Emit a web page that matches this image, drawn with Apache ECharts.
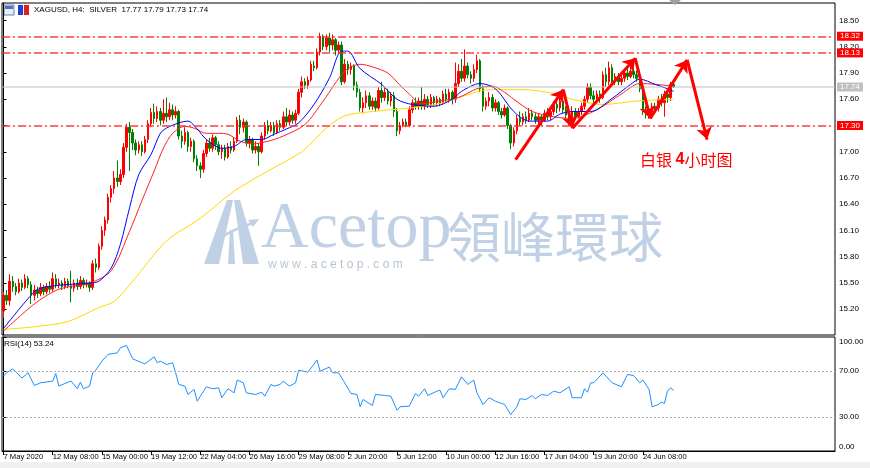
<!DOCTYPE html>
<html><head><meta charset="utf-8">
<script src="https://cdn.jsdelivr.net/npm/echarts@6/dist/echarts.min.js"></script>
<style>html,body{margin:0;padding:0;background:#fff}#c{width:870px;height:468px}</style>
</head><body><div id="c"></div>
<script>
// ---------- data ----------
const symbolName = 'XAGUSD, H4:  SILVER';
const tickLabels = ['7 May 2020','12 May 08:00','15 May 00:00','19 May 12:00','22 May 04:00','26 May 16:00','29 May 08:00','2 Jun 20:00','5 Jun 12:00','10 Jun 00:00','12 Jun 16:00','17 Jun 04:00','19 Jun 20:00','24 Jun 08:00'];
const labelBars = [0,16,32,48,64,80,96,112,128,144,160,176,192,208];
const slotCount = 271;
const priceTicks = [15.2,15.5,15.8,16.1,16.4,16.7,17.0,17.3,17.6,17.9,18.2,18.5];
const rsiTicks = [0,30,70,100];
const levels = [18.32, 18.13, 17.30];
const lastPrice = 17.74;
const rsiLast = 53.24;

const opens = [15.18,15.36,15.30,15.52,15.46,15.40,15.50,15.45,15.55,15.48,
15.36,15.42,15.38,15.45,15.40,15.46,15.43,15.55,15.48,15.50,
15.46,15.52,15.47,15.44,15.50,15.46,15.53,15.48,15.50,15.45,
15.72,15.68,15.92,16.10,16.22,16.48,16.58,16.70,16.66,16.74,
17.05,17.28,17.22,17.10,17.02,17.08,17.00,17.14,17.32,17.45,
17.38,17.46,17.36,17.44,17.40,17.48,17.42,17.46,17.18,17.12,
17.22,17.06,17.12,16.92,16.84,16.80,16.98,17.10,17.04,17.16,
17.08,17.00,17.04,16.94,17.06,17.02,17.12,17.36,17.28,17.34,
17.10,17.14,17.02,17.06,17.00,17.18,17.30,17.24,17.30,17.22,
17.32,17.28,17.40,17.34,17.42,17.36,17.44,17.68,17.80,17.76,
17.82,17.98,17.96,18.14,18.32,18.20,18.30,18.22,18.28,18.16,
18.22,17.80,18.00,17.94,17.98,17.76,17.68,17.50,17.56,17.64,
17.52,17.58,17.50,17.70,17.62,17.68,17.58,17.64,17.46,17.24,
17.30,17.34,17.30,17.48,17.56,17.52,17.58,17.52,17.60,17.54,
17.62,17.56,17.60,17.56,17.66,17.60,17.68,17.60,17.78,17.92,
17.84,17.98,17.88,17.84,17.94,18.04,17.72,17.52,17.58,17.62,
17.50,17.56,17.46,17.42,17.50,17.30,17.10,17.24,17.38,17.34,
17.40,17.36,17.44,17.40,17.36,17.40,17.36,17.44,17.40,17.46,
17.54,17.50,17.58,17.48,17.42,17.36,17.46,17.40,17.46,17.52,
17.60,17.74,17.64,17.60,17.66,17.62,17.88,17.80,17.96,17.80,
17.86,17.80,17.84,17.90,17.86,17.92,17.88,17.84,17.72,17.46,
17.42,17.46,17.52,17.50,17.60,17.56,17.66,17.62,17.77];
const closes = [15.36,15.30,15.52,15.46,15.40,15.50,15.45,15.55,15.48,15.36,
15.42,15.38,15.45,15.40,15.46,15.43,15.55,15.48,15.50,15.46,
15.52,15.47,15.44,15.50,15.46,15.53,15.48,15.50,15.45,15.72,
15.68,15.92,16.10,16.22,16.48,16.58,16.70,16.66,16.74,17.05,
17.28,17.22,17.10,17.02,17.08,17.00,17.14,17.32,17.45,17.38,
17.46,17.36,17.44,17.40,17.48,17.42,17.46,17.18,17.12,17.22,
17.06,17.12,16.92,16.84,16.80,16.98,17.10,17.04,17.16,17.08,
17.00,17.04,16.94,17.06,17.02,17.12,17.36,17.28,17.34,17.10,
17.14,17.02,17.06,17.00,17.18,17.30,17.24,17.30,17.22,17.32,
17.28,17.40,17.34,17.42,17.36,17.44,17.68,17.80,17.76,17.82,
18.00,17.96,18.14,18.32,18.20,18.30,18.22,18.28,18.16,18.22,
17.80,18.00,17.94,17.98,17.76,17.68,17.50,17.56,17.64,17.52,
17.58,17.50,17.70,17.62,17.68,17.58,17.64,17.46,17.24,17.30,
17.34,17.30,17.48,17.56,17.52,17.58,17.52,17.60,17.54,17.62,
17.56,17.60,17.56,17.66,17.60,17.68,17.60,17.78,17.92,17.84,
17.98,17.88,17.84,17.94,18.04,17.72,17.52,17.58,17.62,17.50,
17.56,17.46,17.42,17.50,17.30,17.10,17.24,17.38,17.34,17.40,
17.36,17.44,17.40,17.36,17.40,17.36,17.44,17.40,17.46,17.54,
17.50,17.58,17.48,17.42,17.36,17.46,17.40,17.46,17.52,17.60,
17.74,17.64,17.60,17.66,17.62,17.88,17.80,17.96,17.80,17.86,
17.80,17.84,17.90,17.86,17.92,17.88,17.84,17.72,17.46,17.42,
17.46,17.52,17.50,17.60,17.56,17.66,17.62,17.77,17.74];
const lows = [15.10,15.25,15.24,15.40,15.36,15.38,15.41,15.43,15.44,15.26,
15.30,15.33,15.35,15.36,15.37,15.39,15.40,15.44,15.44,15.42,
15.43,15.44,15.28,15.40,15.42,15.43,15.44,15.45,15.40,15.42,
15.62,15.65,15.88,16.04,16.18,16.42,16.52,16.60,16.62,16.70,
17.00,16.78,17.02,16.96,16.98,16.95,16.98,17.10,17.28,17.32,
17.34,17.30,17.32,17.34,17.36,17.36,17.38,17.14,17.04,17.08,
17.00,17.00,16.88,16.78,16.70,16.76,16.94,17.00,17.00,17.02,
16.96,16.92,16.90,16.92,16.98,17.00,17.10,17.20,17.22,17.06,
17.04,16.98,16.98,16.84,16.98,17.14,17.20,17.22,17.18,17.20,
17.24,17.26,17.30,17.30,17.32,17.32,17.42,17.62,17.72,17.72,
17.80,17.92,17.94,18.10,18.16,18.16,18.14,18.16,18.10,18.12,
17.76,17.78,17.88,17.88,17.70,17.62,17.46,17.44,17.50,17.48,
17.48,17.46,17.48,17.56,17.58,17.54,17.52,17.40,17.18,17.20,
17.28,17.28,17.28,17.44,17.48,17.48,17.48,17.48,17.50,17.50,
17.52,17.52,17.52,17.54,17.56,17.56,17.54,17.56,17.74,17.80,
17.80,17.84,17.78,17.80,17.90,17.68,17.46,17.48,17.52,17.46,
17.46,17.42,17.38,17.40,17.26,17.03,17.06,17.20,17.30,17.30,
17.32,17.34,17.36,17.32,17.32,17.30,17.34,17.36,17.36,17.42,
17.44,17.46,17.44,17.38,17.30,17.30,17.36,17.38,17.42,17.48,
17.56,17.60,17.56,17.56,17.56,17.60,17.74,17.76,17.74,17.76,
17.76,17.76,17.80,17.82,17.84,17.84,17.80,17.68,17.42,17.38,
17.38,17.42,17.44,17.46,17.52,17.40,17.56,17.58,17.73];
const highs = [15.40,15.42,15.60,15.58,15.50,15.55,15.54,15.60,15.58,15.52,
15.48,15.46,15.50,15.48,15.50,15.52,15.62,15.60,15.55,15.53,
15.56,15.55,15.64,15.54,15.55,15.58,15.56,15.54,15.52,15.76,
15.78,15.95,16.15,16.26,16.52,16.62,16.78,16.90,16.80,17.10,
17.32,17.34,17.26,17.14,17.12,17.12,17.18,17.36,17.50,17.55,
17.52,17.50,17.60,17.62,17.56,17.54,17.52,17.48,17.24,17.28,
17.24,17.16,17.14,16.96,16.88,17.02,17.14,17.16,17.20,17.18,
17.12,17.08,17.08,17.10,17.12,17.16,17.40,17.42,17.38,17.36,
17.18,17.16,17.12,17.10,17.22,17.34,17.36,17.34,17.34,17.36,
17.36,17.46,17.50,17.48,17.46,17.48,17.72,17.86,17.84,17.86,
18.04,18.04,18.18,18.36,18.34,18.34,18.36,18.34,18.30,18.26,
18.26,18.06,18.04,18.02,18.00,17.80,17.72,17.62,17.70,17.68,
17.62,17.62,17.74,17.80,17.74,17.72,17.68,17.68,17.50,17.34,
17.38,17.38,17.52,17.60,17.62,17.62,17.74,17.66,17.64,17.66,
17.64,17.64,17.62,17.70,17.72,17.72,17.70,18.02,18.00,18.06,
18.17,18.02,17.92,18.00,18.11,18.06,17.76,17.62,17.68,17.66,
17.60,17.58,17.50,17.54,17.52,17.32,17.28,17.42,17.46,17.44,
17.46,17.50,17.48,17.44,17.44,17.42,17.48,17.50,17.50,17.58,
17.62,17.62,17.62,17.52,17.46,17.52,17.50,17.50,17.56,17.64,
17.78,17.78,17.70,17.70,17.70,17.92,17.96,18.03,18.00,17.90,
17.90,17.88,17.94,17.96,17.98,17.95,17.93,17.86,17.76,17.52,
17.50,17.56,17.56,17.64,17.66,17.70,17.70,17.80,17.79];

// moving averages: [bar index, price]
const maFast = [[0,14.98],[10,15.40],[13,15.45],[20,15.48],[28,15.50],[31,15.52],[35,15.67],[38,15.94],[41,16.36],[44,16.74],[48,16.97],[51,17.21],[53,17.27],[57,17.33],[60,17.35],[63,17.26],[66,17.14],[71,17.04],[75,17.06],[79,17.14],[84,17.14],[88,17.20],[92,17.26],[96,17.33],[101,17.54],[106,17.84],[110,18.15],[112,18.15],[116,17.95],[123,17.77],[128,17.60],[133,17.54],[140,17.52],[146,17.60],[149,17.69],[155,17.78],[160,17.72],[166,17.46],[171,17.35],[177,17.35],[181,17.43],[185,17.46],[191,17.46],[198,17.61],[204,17.77],[207,17.83],[212,17.77],[216,17.72],[218,17.69]];
const maMid = [[0,14.95],[10,15.26],[18,15.43],[28,15.50],[35,15.64],[41,16.09],[45,16.44],[49,16.78],[52,17.04],[55,17.21],[59,17.29],[62,17.27],[66,17.21],[70,17.21],[73,17.20],[77,17.12],[81,17.09],[86,17.12],[91,17.18],[98,17.31],[104,17.58],[111,17.92],[116,18.00],[120,17.97],[125,17.90],[129,17.76],[132,17.66],[136,17.55],[142,17.58],[148,17.62],[154,17.72],[159,17.75],[163,17.68],[166,17.60],[172,17.46],[179,17.40],[185,17.38],[193,17.48],[201,17.66],[207,17.78],[212,17.77],[218,17.75]];
const maSlow = [[0,14.97],[10,15.00],[21,15.06],[31,15.22],[36,15.29],[42,15.52],[53,15.98],[64,16.24],[75,16.55],[86,16.78],[97,17.00],[105,17.27],[111,17.41],[120,17.46],[132,17.50],[142,17.55],[149,17.63],[158,17.71],[169,17.71],[180,17.66],[185,17.60],[195,17.54],[206,17.58],[218,17.60]];

// RSI(14): [bar index, value]
const rsi = [[0,65.7],[1,68.7],[3,72],[6,64],[8,68.6],[10,57.5],[12,59.8],[16,61.3],[17,68],[18,56.9],[21,60.4],[22,61.3],[24,54.6],[25,60.4],[26,54.6],[28,56.9],[29,68.6],[30,70.9],[32,78.8],[34,84.7],[37,86.1],[38,90.5],[40,92.6],[42,80.9],[45,77.4],[46,76.5],[49,82.6],[50,77.4],[51,78.8],[53,75.9],[55,77.4],[56,68.6],[57,58.4],[59,56.9],[60,49.6],[62,54],[63,43.7],[66,56.3],[68,54.6],[70,55.4],[71,46.7],[73,54.6],[75,51],[76,62.2],[78,59.8],[79,51],[82,49.6],[84,51.6],[85,48.1],[87,58.4],[88,56.9],[90,58.4],[91,61.3],[93,56.9],[95,59.8],[96,70.9],[99,69.2],[102,79.7],[103,70],[106,73.6],[107,68.6],[109,68.6],[111,59.8],[113,50.5],[115,49.6],[116,38.8],[117,45.2],[120,39.9],[121,49.6],[124,48.7],[126,48.1],[128,35.8],[129,38.8],[132,39.3],[134,50.5],[135,48.1],[137,54.6],[138,48.7],[141,52.5],[142,53.4],[143,46.7],[145,54.6],[147,54],[149,65.1],[151,58.4],[153,62.2],[154,51],[156,40.8],[158,46.7],[160,43.7],[163,40.8],[165,32],[167,38.8],[168,45.8],[170,45.2],[172,48.7],[173,45.8],[175,49.6],[177,48.7],[179,52.5],[181,51],[184,56.3],[185,46.7],[188,46.7],[189,54.6],[190,51.6],[191,59.8],[192,59.8],[195,68.6],[196,65.7],[198,59.8],[201,56.3],[203,67.1],[205,66.2],[207,59.8],[208,62.2],[210,54],[211,38.8],[213,40.8],[214,42.9],[215,41.7],[216,52.5],[217,55.4],[218,53.24]];

// hand-drawn zigzag arrows: [bar index, price]
const zigzag = [[166.6,16.91],[182.1,17.71],[185.1,17.27],[205.5,18.07],[210.4,17.38],[222.4,18.05],[228.9,17.14]];

// ---------- build ----------
const categories = Array.from({length: slotCount}, (_, i) => String(i));
const candles = opens.map((o, i) => [o, closes[i], lows[i], highs[i]]);
const arrowData = zigzag.slice(1).map((p, i) => ({coords: [zigzag[i], p]}));
const n = opens.length - 1;
const header = symbolName + '  ' + opens[n].toFixed(2) + ' ' + highs[n].toFixed(2) + ' ' + lows[n].toFixed(2) + ' ' + closes[n].toFixed(2);

const FONT = 'Liberation Sans';
const RED = '#ff0000', GREEN = '#008000';
const LEVEL_RED = '#ff2a2a';
const WM = '#c0d1e5';
const DASHDOT = [8, 3, 2, 3];

const levelLinesData = levels.map(v => ({coords: [[-0.5, v], [slotCount - 0.5, v]]}));
function levelLabel(v, color, visible) {
  return {type: 'line', xAxisIndex: 1, yAxisIndex: 0, silent: true, z: 5,
    data: [[-0.5, v], [slotCount - 0.5, v]], showSymbol: false, symbol: 'none',
    lineStyle: {color: color, width: 1, opacity: visible ? 1 : 0},
    endLabel: {show: true, formatter: () => v.toFixed(2), distance: 2, color: '#fff', backgroundColor: color === LEVEL_RED ? RED : color,
      fontFamily: FONT, fontSize: 8, padding: [1, 3, 0, 3]}};
}

const chart = echarts.init(document.getElementById('c'), null, {renderer: 'canvas'});

chart.setOption({
  animation: false,
  backgroundColor: '#fff',
  grid: [
    {left: 2, top: 3, width: 833, height: 332, show: true, borderColor: '#000', borderWidth: 1},
    {left: 2, top: 337, width: 833, height: 114, show: true, borderColor: '#000', borderWidth: 1}
  ],
  xAxis: [
    {type: 'category', gridIndex: 0, data: categories, show: false, boundaryGap: true},
    {type: 'value', gridIndex: 0, min: -0.5, max: slotCount - 0.5, show: false},
    {type: 'value', gridIndex: 1, min: -0.5, max: slotCount - 0.5,
      axisLine: {show: true, lineStyle: {color: '#000'}},
      axisTick: {show: true, length: 4, lineStyle: {color: '#000'}, customValues: labelBars},
      axisLabel: {customValues: labelBars, formatter: v => tickLabels[labelBars.indexOf(v)] || '', align: 'left',
        fontFamily: FONT, fontSize: 7.6, color: '#000', margin: 2},
      splitLine: {show: false}}
  ],
  yAxis: [
    {type: 'value', gridIndex: 0, position: 'right', min: 14.906, max: 18.70,
      axisLine: {show: true, lineStyle: {color: '#000'}},
      axisTick: {show: true, length: 3, lineStyle: {color: '#000'}, customValues: priceTicks},
      axisLabel: {customValues: priceTicks, formatter: v => v.toFixed(2), fontFamily: FONT, fontSize: 8, color: '#000', margin: 4},
      splitLine: {show: false}},
    {type: 'value', gridIndex: 1, position: 'right', min: 0, max: 100,
      axisLine: {show: true, lineStyle: {color: '#000'}},
      axisTick: {show: true, length: 3, lineStyle: {color: '#000'}, customValues: rsiTicks},
      axisLabel: {customValues: rsiTicks, fontFamily: FONT, fontSize: 8, color: '#000', margin: 4,
        formatter: v => v === 100 ? '{t|100.00}' : v === 0 ? '{b|0.00}' : v.toFixed(2),
        rich: {t: {padding: [9, 0, 0, 0], fontFamily: FONT, fontSize: 8}, b: {padding: [0, 0, 9, 0], fontFamily: FONT, fontSize: 8}}},
      splitLine: {show: false}}
  ],
  series: [
    levelLabel(lastPrice, '#c0c0c0', true),
    {type: 'candlestick', xAxisIndex: 0, yAxisIndex: 0, data: candles, barWidth: 2, z: 2,
      itemStyle: {color: RED, color0: GREEN, borderColor: RED, borderColor0: GREEN, borderWidth: 1}},
    {type: 'line', xAxisIndex: 1, yAxisIndex: 0, data: maSlow, showSymbol: false, smooth: 0.3,
      lineStyle: {color: '#ffd700', width: 1}, z: 3},
    {type: 'line', xAxisIndex: 1, yAxisIndex: 0, data: maMid, showSymbol: false, smooth: 0.3,
      lineStyle: {color: '#ff2020', width: 1}, z: 3},
    {type: 'line', xAxisIndex: 1, yAxisIndex: 0, data: maFast, showSymbol: false, smooth: 0.3,
      lineStyle: {color: '#0000ff', width: 1}, z: 3},
    {type: 'lines', coordinateSystem: 'cartesian2d', xAxisIndex: 1, yAxisIndex: 0, data: levelLinesData,
      symbol: 'none', lineStyle: {color: LEVEL_RED, type: DASHDOT, width: 1.6, opacity: 0.9}, z: 4, silent: true},
    ...levels.map(v => levelLabel(v, LEVEL_RED, false)),
    {type: 'lines', coordinateSystem: 'cartesian2d', xAxisIndex: 1, yAxisIndex: 0, data: arrowData,
      symbol: ['none', 'arrow'], symbolSize: 12, lineStyle: {color: RED, width: 3, opacity: 1}, z: 10, silent: true},
    {type: 'line', xAxisIndex: 2, yAxisIndex: 1, data: rsi, showSymbol: false,
      lineStyle: {color: '#1e90ff', width: 1},
      markLine: {silent: true, symbol: 'none', label: {show: false},
        lineStyle: {color: '#b0b0b0', type: [2, 2], width: 1},
        data: [{yAxis: 70}, {yAxis: 30}]}}
  ],
  graphic: [
    {type: 'rect', shape: {x: 0, y: 462, width: 870, height: 6}, style: {fill: '#f0f0f0'}, silent: true},
    {type: 'polygon', shape: {points: [[669, 0], [681, 0], [675, 5]]}, style: {fill: '#a0a0a0'}, silent: true},
    // header icons
    {type: 'rect', shape: {x: 4, y: 5, width: 10, height: 10}, style: {fill: '#e8eef8', stroke: '#6080b0', lineWidth: 1}, silent: true},
    {type: 'rect', shape: {x: 5, y: 6, width: 8, height: 3}, style: {fill: '#5070c0'}, silent: true},
    {type: 'rect', shape: {x: 18, y: 5, width: 5, height: 10}, style: {fill: '#2040d0'}, silent: true},
    {type: 'rect', shape: {x: 24, y: 5, width: 5, height: 10}, style: {fill: '#e02020'}, silent: true},
    {type: 'text', x: 34, y: 10, style: {text: header, fontFamily: FONT, fontSize: 8, fill: '#000', verticalAlign: 'middle'}, silent: true},
    {type: 'text', x: 4, y: 344, style: {text: 'RSI(14) ' + rsiLast.toFixed(2), fontFamily: FONT, fontSize: 8, fill: '#000', verticalAlign: 'middle'}, silent: true},
    // watermark
    {type: 'group', silent: true, children: [
      {type: 'polygon', shape: {points: [[204, 264], [227, 200], [233, 200], [219, 264]]}, style: {fill: WM}},
      {type: 'polygon', shape: {points: [[234, 200], [240, 200], [259, 264], [243, 264]]}, style: {fill: WM}},
      {type: 'polygon', shape: {points: [[230, 230], [233, 230], [235, 264], [228, 264]]}, style: {fill: WM}},
      {type: 'bezierCurve', shape: {x1: 214, y1: 254, cpx1: 206, cpy1: 238, x2: 256, y2: 222}, style: {stroke: WM, lineWidth: 2.5, fill: null}},
      {type: 'polygon', shape: {points: [[259, 219], [248, 220], [253, 227]]}, style: {fill: WM}},
      {type: 'text', x: 261, y: 263, style: {text: 'Acetop', fontFamily: 'Liberation Serif', fontSize: 66, fill: WM, verticalAlign: 'bottom'}},
      {type: 'text', x: 447, y: 264, style: {text: '領峰環球', fontFamily: 'Noto Sans CJK TC', fontSize: 54, fill: WM, verticalAlign: 'bottom'}},
      {type: 'text', x: 268, y: 265, style: {text: 'w w w . a c e t o p . c o m', fontFamily: FONT, fontSize: 12, fill: '#b8c4d0', verticalAlign: 'middle'}}
    ]},
    {type: 'text', x: 640, y: 160, z: 100, silent: true,
      style: {text: '{a|白银 }{b|4}{a|小时图}', verticalAlign: 'middle',
        rich: {a: {fontFamily: 'Noto Sans CJK SC', fontSize: 16, fill: RED, color: RED},
               b: {fontFamily: FONT, fontSize: 16, fontWeight: 'bold', fill: RED, color: RED}}}}
  ]
});
</script>
</body></html>
